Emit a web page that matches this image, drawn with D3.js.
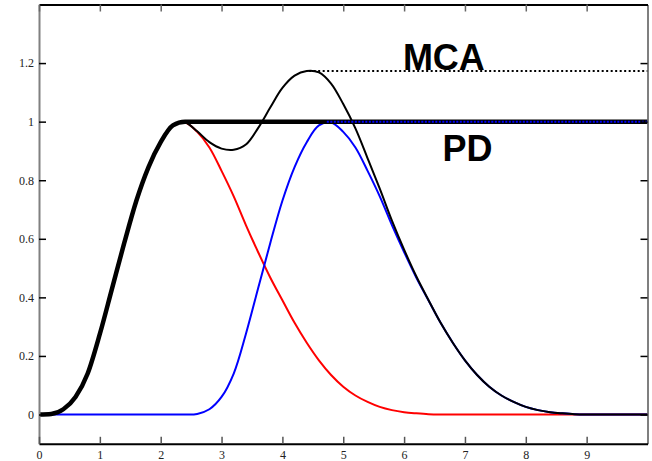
<!DOCTYPE html>
<html>
<head>
<meta charset="utf-8">
<script src="https://cdn.jsdelivr.net/npm/d3@7"></script>
<style>
  html, body { margin: 0; padding: 0; background: #fff; }
  svg { display: block; }
</style>
</head>
<body>
<svg id="chart" width="652" height="461"></svg>
<script>
// ---------- data ----------
const xs = d3.range(0, 51).map(i => +(i * 0.2).toFixed(1)); // 0 .. 10 step 0.2

const red = [0, 0.002, 0.018, 0.06, 0.14, 0.275, 0.43, 0.585, 0.73, 0.845,
  0.93, 0.987, 0.997, 0.965, 0.912, 0.832, 0.745, 0.647, 0.555, 0.468,
  0.39, 0.313, 0.245, 0.185, 0.135, 0.095, 0.065, 0.043, 0.026, 0.015,
  0.008, 0.004, 0.001, 0, 0, 0, 0, 0, 0, 0,
  0, 0, 0, 0, 0, 0, 0, 0, 0, 0, 0];

const blue = [0, 0, 0, 0, 0, 0, 0, 0, 0, 0,
  0, 0, 0, 0.002, 0.018, 0.06, 0.14, 0.275, 0.43, 0.585,
  0.73, 0.845, 0.93, 0.987, 0.997, 0.965, 0.912, 0.832, 0.745, 0.647,
  0.555, 0.468, 0.39, 0.313, 0.245, 0.185, 0.135, 0.095, 0.065, 0.043,
  0.026, 0.015, 0.008, 0.004, 0.001, 0, 0, 0, 0, 0, 0];

const mca = [0, 0.002, 0.018, 0.06, 0.14, 0.275, 0.43, 0.585, 0.73, 0.845,
  0.93, 0.987, 0.997, 0.967, 0.93, 0.908, 0.904, 0.922, 0.978, 1.048,
  1.115, 1.157, 1.173, 1.168, 1.13, 1.06, 0.977, 0.875, 0.771, 0.662,
  0.563, 0.472, 0.391, 0.313, 0.245, 0.185, 0.135, 0.095, 0.065, 0.043,
  0.026, 0.015, 0.008, 0.004, 0.001, 0, 0, 0, 0, 0, 0];

const pd = [0, 0.002, 0.018, 0.06, 0.14, 0.275, 0.43, 0.585, 0.73, 0.845,
  0.93, 0.987, 1, 1, 1, 1, 1, 1, 1, 1,
  1, 1, 1, 1, 1, 1, 1, 1, 1, 1,
  1, 1, 1, 1, 1, 1, 1, 1, 1, 1,
  1, 1, 1, 1, 1, 1, 1, 1, 1, 1, 1];

const bluePeakX = 4.73;   // where the blue dotted level starts
const mcaPeakX = 4.44;    // where the MCA dotted level starts
const mcaPeak = 1.173;

const xTicks = [0, 1, 2, 3, 4, 5, 6, 7, 8, 9];
const xTickLabels = ["0", "1", "2", "3", "4", "5", "6", "7", "8", "9"];
const yTicks = [0, 0.2, 0.4, 0.6, 0.8, 1, 1.2];
const yTickLabels = ["0", "0.2", "0.4", "0.6", "0.8", "1", "1.2"];

const labels = [
  { text: "MCA", x: 5.98, y: 1.175 },
  { text: "PD",  x: 6.63, y: 0.865 }
];

// ---------- layout ----------
const svg = d3.select("#chart");
const L = 39, R = 647.5, T = 4.5, B = 443.8;

const x = d3.scaleLinear().domain([0, 10]).range([L, R]);
const y = d3.scaleLinear().domain([-0.1, 1.4]).range([B, T]);

const line = d3.line().x(d => x(d[0])).y(d => y(d[1])).curve(d3.curveCatmullRom.alpha(0.5));
const lineMono = d3.line().x(d => x(d[0])).y(d => y(d[1])).curve(d3.curveMonotoneX);
const pts = arr => xs.map((v, i) => [v, arr[i]]);

const plot = svg.append("g");

plot.append("path").attr("d", line(pts(red)))
  .attr("fill", "none").attr("stroke", "#ff0000").attr("stroke-width", 2);
plot.append("path").attr("d", line(pts(blue)))
  .attr("fill", "none").attr("stroke", "#0000ff").attr("stroke-width", 2);
plot.append("path").attr("d", line(pts(mca)))
  .attr("fill", "none").attr("stroke", "#000").attr("stroke-width", 2);
plot.append("path").attr("d", lineMono(pts(pd)))
  .attr("fill", "none").attr("stroke", "#000").attr("stroke-width", 4.5)
  .attr("stroke-linejoin", "round");

// blue dotted level on the PD line
plot.append("line")
  .attr("x1", x(bluePeakX)).attr("x2", x(10))
  .attr("y1", y(1)).attr("y2", y(1))
  .attr("stroke", "#0000ff").attr("stroke-width", 2)
  .attr("stroke-dasharray", "2,1.5");

// MCA dotted level
plot.append("line")
  .attr("x1", x(mcaPeakX)).attr("x2", x(10))
  .attr("y1", y(mcaPeak)).attr("y2", y(mcaPeak))
  .attr("stroke", "#000").attr("stroke-width", 2)
  .attr("stroke-dasharray", "2,2.5");

// text labels
plot.selectAll("text.lbl").data(labels).enter().append("text")
  .attr("class", "lbl")
  .attr("x", d => x(d.x)).attr("y", d => y(d.y))
  .attr("font-family", "Liberation Sans, Arial, sans-serif")
  .attr("font-weight", "bold").attr("font-size", 36)
  .attr("fill", "#000")
  .text(d => d.text);

// ---------- axes ----------
const fmtX = (d, i) => xTickLabels[i];
const fmtY = (d, i) => yTickLabels[i];

const gL = svg.append("g").attr("transform", `translate(${L},0)`)
  .call(d3.axisLeft(y).tickValues(yTicks).tickFormat(fmtY).tickSize(-7).tickSizeOuter(0).tickPadding(5));
const gR = svg.append("g").attr("transform", `translate(${R},0)`)
  .call(d3.axisRight(y).tickValues(yTicks).tickFormat("").tickSize(-7).tickSizeOuter(0));
const gB = svg.append("g").attr("transform", `translate(0,${B})`)
  .call(d3.axisBottom(x).tickValues(xTicks).tickFormat(fmtX).tickSize(-7).tickSizeOuter(0).tickPadding(7));
const gT = svg.append("g").attr("transform", `translate(0,${T})`)
  .call(d3.axisTop(x).tickValues(xTicks).tickFormat("").tickSize(-7).tickSizeOuter(0));

[gL, gR, gB, gT].forEach(g => {
  g.selectAll("text")
    .attr("font-family", "Liberation Serif, Times New Roman, serif")
    .attr("font-size", 12).attr("fill", "#222");
});
gL.selectAll(".tick line").attr("stroke", "#000").attr("stroke-width", 1.5);
gR.selectAll(".tick line").attr("stroke", "#000").attr("stroke-width", 1.5);
gB.selectAll(".tick line").attr("stroke", "#555").attr("stroke-width", 1.5);
gT.selectAll(".tick line").attr("stroke", "#666").attr("stroke-width", 1.5);
gL.select(".domain").attr("stroke", "#808080").attr("stroke-width", 2);
gR.select(".domain").attr("stroke", "#555").attr("stroke-width", 1.5);
gB.select(".domain").attr("stroke", "#000").attr("stroke-width", 2);
gT.select(".domain").attr("stroke", "#000").attr("stroke-width", 2);
</script>
</body>
</html>
